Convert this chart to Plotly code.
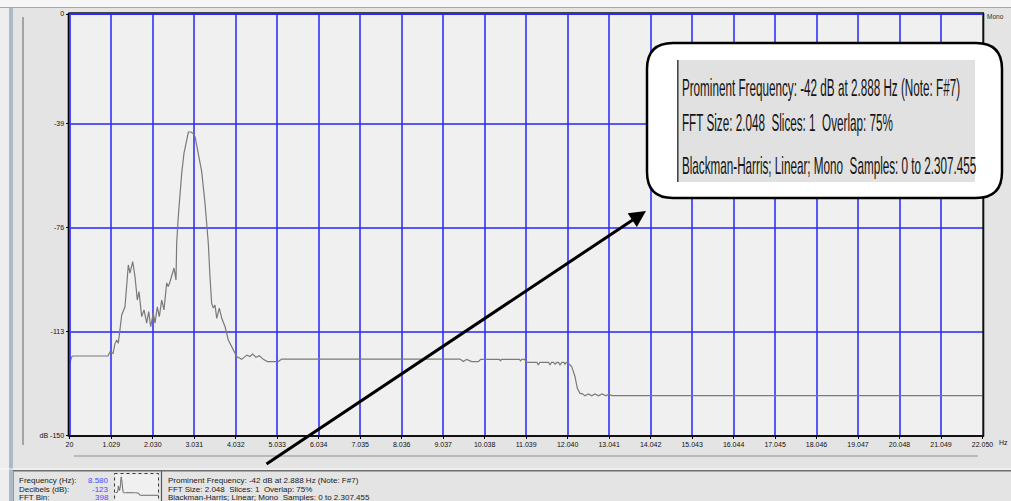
import plotly.graph_objects as go

W, H = 1011, 501

# ---------------- data ----------------
freq_hz = [20, 73, 104, 949, 997, 1070, 1118, 1160, 1198, 1280, 1359, 1439, 1480, 1545, 1601,
           1656, 1697, 1762, 1818, 1883, 1931, 1979, 2042, 2083, 2139, 2187, 2245, 2300, 2365,
           2404, 2445, 2510, 2542, 2590, 2606, 2645, 2686, 2727, 2782, 2848, 2888, 2950, 3007,
           3050, 3130, 3210, 3290, 3369, 3410, 3450, 3490, 3531, 3572, 3635, 3693, 3773, 3852,
           3934, 4055, 4175, 4296, 4375, 4440, 4520, 4600, 4697, 4793, 5058, 5140, 9443, 9523,
           9604, 9725, 9884, 9942, 10391, 10420, 10449, 10874, 10905, 10932, 11000, 11052, 11300,
           11332, 11370, 11580, 11614, 11650, 11700, 11735, 11780, 11820, 11856, 11900, 11950,
           11976, 12010, 12056, 12138, 12218, 12273, 12338, 12400, 12458, 12540, 12620, 12700,
           12780, 12870, 12966, 13030, 13103, 22050]
level_db = [-124.5, -122.0, -121.7, -121.7, -120.2, -120.8, -117.3, -116.0, -117.2, -107.1, -104.2,
            -89.3, -92.2, -88.1, -93.5, -101.8, -98.8, -107.7, -105.3, -110.0, -105.9, -111.3,
            -106.4, -110.0, -104.2, -107.7, -101.8, -105.3, -95.7, -97.0, -95.3, -92.2, -90.4,
            -94.7, -81.6, -72.1, -63.8, -56.7, -49.6, -44.8, -42.0, -42.0, -42.6, -43.7, -49.6,
            -56.1, -67.4, -81.5, -93.5, -103.0, -104.6, -103.6, -108.3, -104.7, -108.3, -111.3,
            -116.0, -118.4, -121.9, -122.9, -121.4, -121.9, -121.0, -122.2, -121.6, -122.9, -123.7,
            -123.7, -122.8, -122.8, -123.7, -122.9, -123.7, -123.7, -122.9, -122.9, -123.4, -122.9,
            -122.9, -123.4, -122.9, -122.9, -124.0, -124.0, -124.9, -124.0, -124.0, -124.9, -124.0,
            -124.0, -124.6, -124.0, -124.0, -124.9, -124.0, -124.0, -124.6, -124.0, -124.3, -125.5,
            -129.1, -133.2, -135.0, -135.2, -135.9, -135.2, -135.9, -135.2, -135.9, -135.2, -135.9,
            -135.2, -135.8, -135.8]

x_tick_vals = [20, 1029, 2030, 3031, 4032, 5033, 6034, 7035, 8036, 9037, 10038, 11039, 12040,
               13041, 14042, 15043, 16044, 17045, 18046, 19047, 20048, 21049, 22050]
x_tick_text = ["20", "1.029", "2.030", "3.031", "4.032", "5.033", "6.034", "7.035", "8.036",
               "9.037", "10.038", "11.039", "12.040", "13.041", "14.042", "15.043", "16.044",
               "17.045", "18.046", "19.047", "20.048", "21.049", "22.050"]
y_tick_vals = [0, -39, -76, -113, -150]
y_tick_text = ["0", "-39", "-76", "-113", "dB -150"]

info_labels = ["Frequency (Hz):", "Decibels (dB):", "FFT Bin:"]
info_values = ["8.580", "-123", "398"]
summary_lines = ["Prominent Frequency: -42 dB at 2.888 Hz (Note: F#7)",
                 "FFT Size: 2.048\u00a0 Slices: 1\u00a0 Overlap: 75%",
                 "Blackman-Harris; Linear; Mono\u00a0 Samples: 0 to 2.307.455"]


def px(x):
    return x / W


def py(y):
    return 1 - y / H


PL, PR, PT, PB = 69.5, 982.5, 14, 435.5
GRID = "rgba(45,45,250,0.78)"
UI_FONT = "Liberation Sans, Arial, sans-serif"
CALLOUT_SIZE = 11.7

fig = go.Figure()
fig.add_trace(go.Scatter(x=freq_hz, y=level_db, mode="lines",
                         line=dict(color="#7a7a7a", width=1.2), hoverinfo="skip",
                         showlegend=False))
# thumbnail of the same spectrum
fig.add_trace(go.Scatter(x=freq_hz, y=level_db, mode="lines", xaxis="x2", yaxis="y2",
                         line=dict(color="#6a6a6a", width=1), hoverinfo="skip",
                         showlegend=False))

shapes = []


def line(x0, y0, x1, y1, color, width, dash=None):
    d = dict(type="line", xref="paper", yref="paper", x0=px(x0), y0=py(y0), x1=px(x1),
             y1=py(y1), line=dict(color=color, width=width))
    if dash:
        d["line"]["dash"] = dash
    shapes.append(d)


def rect(x0, y0, x1, y1, fill, color=None, width=0, dash=None, layer="above"):
    d = dict(type="rect", xref="paper", yref="paper", x0=px(x0), y0=py(y0), x1=px(x1),
             y1=py(y1), fillcolor=fill, layer=layer,
             line=dict(color=color or fill, width=width))
    if dash:
        d["line"]["dash"] = dash
    shapes.append(d)


# window chrome
rect(0, 0, W, 7, "#f6f6f6", layer="below")
line(0, 7.5, W, 7.5, "#a8a8a8", 1)
rect(0, 8, 9, H, "#eeeeee", layer="below")
rect(9, 8, 13, H, "#aeb9c7", layer="below")
line(23, 17, 23, 445, "#a4a4a4", 2)
line(74, 456, 978, 456, "#b9b9b9", 2)
line(0, 469, W, 469, "#f8f8f8", 1)
line(13, 470.8, W, 470.8, "#6e6e6e", 1.5)
line(13.5, 471, 13.5, H, "#9a9a9a", 1)
line(161.5, 471, 161.5, H, "#5a5a5a", 1.2)
rect(114.5, 473.5, 158.5, H + 4, "rgba(0,0,0,0)", "#3a3a3a", 1, dash="dot")

# plot frame
line(PL - 0.8, PT - 1, PL - 0.8, PB + 1, "#000000", 2)
line(PL - 1, PB + 0.5, PR + 1.5, PB + 0.5, "#111111", 2)
line(PR + 0.8, PT - 1, PR + 0.8, PB + 1, "#111111", 2)
line(PL - 1, PT - 1.2, PR + 1.5, PT - 1.2, "#000000", 1)
line(PL, PT, PR, PT, "#2a2aff", 2)
line(PL + 0.8, PT, PL + 0.8, PB, "#3a3aff", 1.2)

# callout box with rounded corners
x0, y0, x1, y1, r = 647, 43, 1002, 198, 26
path = (f"M {px(x0 + r)},{py(y0)} L {px(x1 - r)},{py(y0)} Q {px(x1)},{py(y0)} {px(x1)},{py(y0 + r)} "
        f"L {px(x1)},{py(y1 - r)} Q {px(x1)},{py(y1)} {px(x1 - r)},{py(y1)} "
        f"L {px(x0 + r)},{py(y1)} Q {px(x0)},{py(y1)} {px(x0)},{py(y1 - r)} "
        f"L {px(x0)},{py(y0 + r)} Q {px(x0)},{py(y0)} {px(x0 + r)},{py(y0)} Z")
shapes.append(dict(type="path", xref="paper", yref="paper", path=path, fillcolor="#ffffff",
                   line=dict(color="#000000", width=2.5), layer="above"))
rect(677.5, 60, 975, 182, "#e1e1e1")
line(677.8, 60, 677.8, 182, "#3c3c3c", 1.5)

annotations = []
for t, yy in zip(summary_lines, [88, 122, 165]):
    annotations.append(dict(xref="paper", yref="paper", x=px(680), y=py(yy), text=t,
                            showarrow=False, xanchor="left", yanchor="middle",
                            font=dict(family=UI_FONT, size=CALLOUT_SIZE, color="#141414")))

# arrow
annotations.append(dict(xref="paper", yref="paper", x=px(646), y=py(211), ax=-381, ay=254,
                        text="", showarrow=True, arrowhead=2, arrowsize=1.1, arrowwidth=3,
                        arrowcolor="#000000"))

# bottom info panel
for lab, val, yy in zip(info_labels, info_values, [480.7, 489.2, 497.7]):
    annotations.append(dict(xref="paper", yref="paper", x=px(17), y=py(yy), text=lab,
                            showarrow=False, xanchor="left", yanchor="middle",
                            font=dict(family=UI_FONT, size=8, color="#202020")))
    annotations.append(dict(xref="paper", yref="paper", x=px(110.5), y=py(yy), text=val,
                            showarrow=False, xanchor="right", yanchor="middle",
                            font=dict(family=UI_FONT, size=8, color="#4a4aff")))
for t, yy in zip(summary_lines, [480.7, 489.2, 497.7]):
    annotations.append(dict(xref="paper", yref="paper", x=px(165.5), y=py(yy), text=t,
                            showarrow=False, xanchor="left", yanchor="middle",
                            font=dict(family=UI_FONT, size=8, color="#202020")))

annotations.append(dict(xref="paper", yref="paper", x=px(997), y=py(442.5), text="Hz",
                        showarrow=False, xanchor="left", yanchor="middle",
                        font=dict(family=UI_FONT, size=7, color="#202020")))
annotations.append(dict(xref="paper", yref="paper", x=px(985), y=py(16.5), text="Mono",
                        showarrow=False, xanchor="left", yanchor="middle",
                        font=dict(family=UI_FONT, size=6.5, color="#303030")))

fig.update_layout(
    width=W, height=H,
    margin=dict(l=0, r=0, t=0, b=0, pad=0, autoexpand=False),
    paper_bgcolor="#e4e4e4",
    plot_bgcolor="#f0f0f0",
    showlegend=False,
    xaxis=dict(domain=[px(PL), px(PR)], range=[20, 22050], tickmode="array",
               tickvals=x_tick_vals, ticktext=x_tick_text, showgrid=True, gridcolor=GRID,
               gridwidth=1.5, zeroline=False, showline=False, ticks="outside", ticklen=2,
               tickcolor="#000000", tickfont=dict(family=UI_FONT, size=7, color="#111111"),
               fixedrange=True, anchor="y", automargin=False),
    yaxis=dict(domain=[py(PB), py(PT)], range=[-150, 0], tickmode="array",
               tickvals=y_tick_vals, ticktext=y_tick_text, showgrid=True, gridcolor=GRID,
               gridwidth=1.5, zeroline=False, showline=False, ticks="outside", ticklen=3,
               tickcolor="#000000", tickfont=dict(family=UI_FONT, size=7, color="#111111"),
               fixedrange=True, anchor="x", automargin=False),
    xaxis2=dict(domain=[px(115.5), px(158)], range=[0, 22050], visible=False,
                anchor="y2", fixedrange=True),
    yaxis2=dict(domain=[0, py(474.5)], range=[-165, -30], visible=False, anchor="x2",
                fixedrange=True),
    shapes=shapes,
    annotations=annotations,
)

# the callout text in the reference is tall and condensed: stretch it vertically
post = """
var gd = document.getElementById('{plot_id}');
gd.querySelectorAll('g.annotation text.annotation-text').forEach(function(t){
  if (parseFloat(t.style.fontSize) > 11) {
    t.style.transformBox = 'fill-box';
    t.style.transformOrigin = 'center';
    t.style.transform = 'scaleY(2.05)';
  }
});
"""

fig.write_html("out.html", post_script=post)
